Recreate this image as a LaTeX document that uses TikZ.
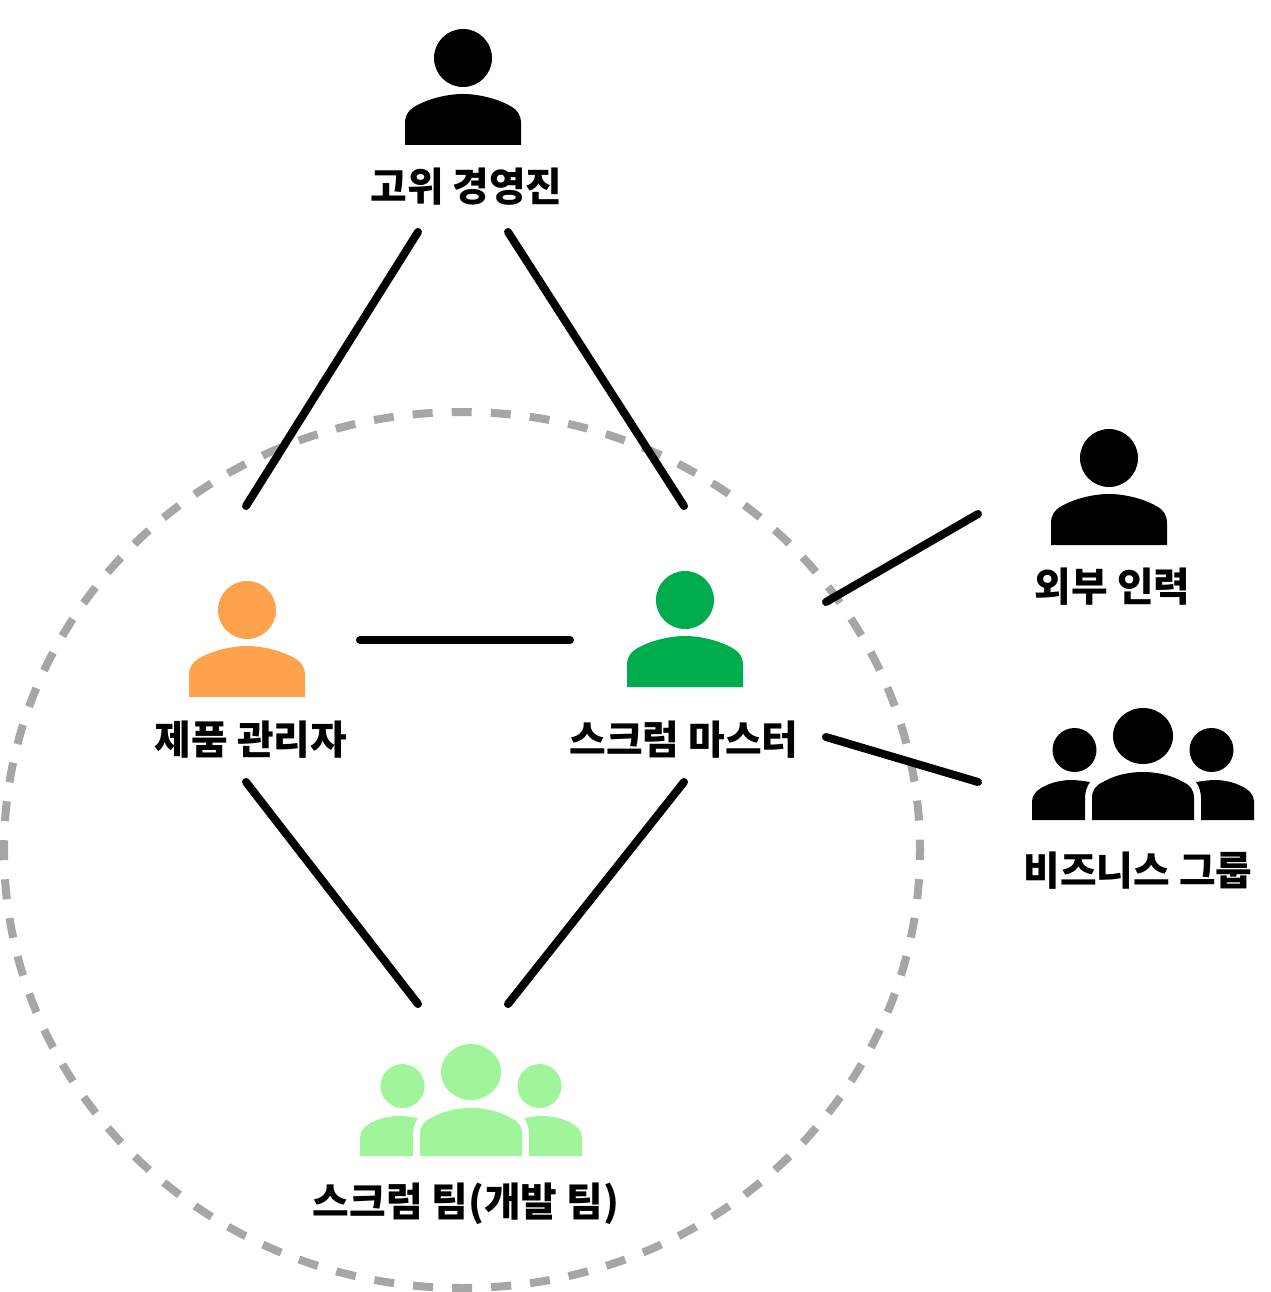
\documentclass[tikz,border=0pt]{standalone}
\usepackage{fontspec}
\newfontfamily\krfont{Noto Sans CJK KR}
\definecolor{pmorange}{HTML}{FFA24D}
\definecolor{smgreen}{HTML}{00AD4E}
\definecolor{teamgreen}{HTML}{A0F59A}
\definecolor{ringgray}{HTML}{A6A6A6}
\tikzset{
  x=1pt,y=-1pt,
  label text/.style={font=\krfont\bfseries\fontsize{39.8}{42}\selectfont,text=black,inner sep=0pt,anchor=center},
  link/.style={draw=black,line width=8pt,line cap=round},
  ring/.style={draw=ringgray,line width=8pt,dash pattern=on 20pt off 19.1pt,dash phase=10pt},
  person/.pic={
    \fill[pic actions] (0,0) circle[radius=29];
    \fill[pic actions] (-58,87) -- (-58,65) .. controls (-58,57) and (-54,52) .. (-49,49)
      .. controls (-36,41) and (-16,36) .. (0,36)
      .. controls (16,36) and (36,41) .. (49,49) .. controls (54,52) and (58,57) .. (58,65) -- (58,87) -- cycle;
  },
  crowd/.pic={
    \fill[pic actions] (0,0) ellipse[x radius=30,y radius=28];
    \fill[pic actions] (-68.5,14) circle[radius=22];
    \fill[pic actions] (68.5,14) circle[radius=22];
    \fill[pic actions] (-51,84) -- (-51,62) .. controls (-51,54) and (-47,49) .. (-40,46)
      .. controls (-28,39) and (-14,36) .. (0,36)
      .. controls (14,36) and (28,39) .. (40,46) .. controls (47,49) and (51,54) .. (51,62) -- (51,84) -- cycle;
    \fill[pic actions] (-111,84) -- (-111,65) .. controls (-111,52) and (-88,44) .. (-72,44)
      .. controls (-66,44) and (-60,45) .. (-53,46) .. controls (-56,50) and (-58,56) .. (-58,62) -- (-58,84) -- cycle;
    \fill[pic actions] (111,84) -- (111,65) .. controls (111,52) and (88,44) .. (72,44)
      .. controls (66,44) and (60,45) .. (53,46) .. controls (56,50) and (58,56) .. (58,62) -- (58,84) -- cycle;
  },
}
\begin{document}
\begin{tikzpicture}
\useasboundingbox (0,0) rectangle (1270,1292);
\draw[ring] (462,850) ellipse[x radius=458,y radius=438];

\pic[black] at (463,58) {person};
\pic[pmorange] at (247,610) {person};
\pic[smgreen] at (685,600) {person};
\pic[black] at (1109,458) {person};
\pic[black] at (1143,736) {crowd};
\pic[teamgreen] at (471,1072) {crowd};

\node[label text] (exec) at (466.5,187) {고위 경영진};
\node[label text] (pm) at (251,740) {제품 관리자};
\node[label text] (sm) at (684,740) {스크럼 마스터};
\node[label text] (ext) at (1112.5,587) {외부 인력};
\node[label text] (biz) at (1138,871) {비즈니스 그룹};
\node[label text] (team) at (466,1204) {스크럼 팀(개발 팀)};

\coordinate (execL) at (418,232);
\coordinate (execR) at (508,232);
\coordinate (pmT) at (246,506);
\coordinate (smT) at (684,506);
\coordinate (pmR) at (360,640);
\coordinate (smL) at (570,640);
\coordinate (pmB) at (246,782);
\coordinate (smB) at (684,782);
\coordinate (teamL) at (418,1004);
\coordinate (teamR) at (508,1004);
\coordinate (smE) at (826,602);
\coordinate (extW) at (978,514);
\coordinate (smS) at (826,737);
\coordinate (bizW) at (978,782);

\draw[link] (execL) -- (pmT);
\draw[link] (execR) -- (smT);
\draw[link] (pmR) -- (smL);
\draw[link] (pmB) -- (teamL);
\draw[link] (smB) -- (teamR);
\draw[link] (smE) -- (extW);
\draw[link] (smS) -- (bizW);
\end{tikzpicture}
\end{document}
